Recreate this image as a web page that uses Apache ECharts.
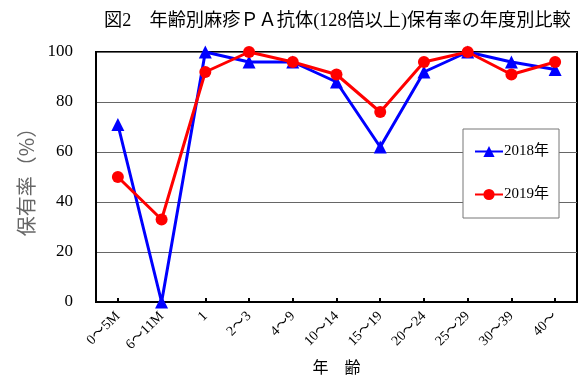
<!DOCTYPE html>
<html><head><meta charset="utf-8">
<script src="https://cdn.jsdelivr.net/npm/echarts@6/dist/echarts.min.js"></script>
<style>html,body{margin:0;padding:0;background:#fff}#c{width:585px;height:383px}</style>
</head><body><div id="c"></div>
<script>
const categories = ['0～5M','6～11M','1','2～3','4～9','10～14','15～19','20～24','25～29','30～39','40～'];
const series2018 = [71, 0, 100, 96, 96, 88, 62, 92, 100, 96, 93];
const series2019 = [50, 33, 92, 100, 96, 91, 76, 96, 100, 91, 96];
const yTicks = [0, 20, 40, 60, 80, 100];
const FONT = '"Liberation Serif","DejaVu Serif","Noto Sans CJK JP",serif';
const chart = echarts.init(document.getElementById('c'), null, {renderer:'canvas'});
chart.setOption({
  animation:false,
  backgroundColor:'#fff',
  title:{text:'図2　年齢別麻疹ＰＡ抗体(128倍以上)保有率の年度別比較', left:99, top:7,
    textStyle:{fontFamily:FONT, fontSize:18.2, fontWeight:'normal', color:'#000'}},
  grid:{left:96, right:8, top:52, bottom:81, show:true, borderColor:'#000', borderWidth:2,
    backgroundColor:'transparent', containLabel:false, outerBoundsMode:'none'},
  legend:{orient:'vertical', left:463, top:129, width:80, itemGap:28, itemWidth:28, itemHeight:14,
    padding:[15,10,16,11], backgroundColor:'#fff', borderColor:'#777', borderWidth:1,
    textStyle:{fontFamily:FONT, fontSize:15, color:'#000', padding:[0,0,0,-4]},
    data:['2018年','2019年']},
  xAxis:{type:'category', data:categories, boundaryGap:true,
    axisLine:{lineStyle:{color:'#000', width:2}},
    axisTick:{show:true, alignWithLabel:true, inside:true, length:4, lineStyle:{color:'#000', width:2}},
    axisLabel:{rotate:45, fontFamily:FONT, fontSize:14, color:'#000', margin:12, interval:0},
    name:'年　齢', nameLocation:'middle', nameGap:59,
    nameTextStyle:{fontFamily:FONT, fontSize:16, color:'#000'}},
  yAxis:{type:'value', min:0, max:100, interval:20,
    axisLine:{show:true, lineStyle:{color:'#000', width:2}},
    axisTick:{show:false},
    splitLine:{lineStyle:{color:'#666', width:1}},
    axisLabel:{fontFamily:FONT, fontSize:17, color:'#000', margin:23,
      formatter:v=>yTicks.includes(v)?String(v):''},
    name:'保有率（%）', nameLocation:'middle', nameGap:58, nameRotate:90,
    nameTextStyle:{fontFamily:'"Noto Sans CJK JP",sans-serif', fontSize:20, color:'#666'}},
  series:[
    {name:'2018年', type:'line', data:series2018, symbol:'triangle', symbolSize:13,
      lineStyle:{color:'#0000ff', width:3}, itemStyle:{color:'#0000ff'}, z:2},
    {name:'2019年', type:'line', data:series2019, symbol:'circle', symbolSize:12,
      lineStyle:{color:'#ff0000', width:3}, itemStyle:{color:'#ff0000'}, z:3}
  ]
});
</script></body></html>
